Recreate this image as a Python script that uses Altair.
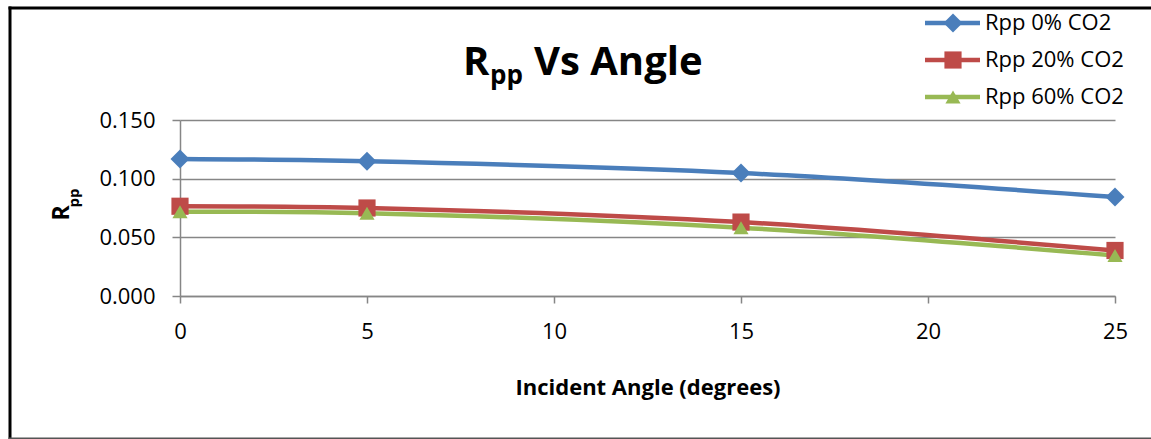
import altair as alt
import pandas as pd

# Reflection coefficient Rpp vs incident angle for three CO2 saturations
angles = [0, 5, 15, 25]
rpp_0 = [0.1168, 0.1148, 0.1048, 0.0844]
rpp_20 = [0.0765, 0.0750, 0.0630, 0.0388]
rpp_60 = [0.0718, 0.0705, 0.0582, 0.0345]

series_names = ["Rpp 0% CO2", "Rpp 20% CO2", "Rpp 60% CO2"]
series_colors = ["#4A7EBB", "#BE4B48", "#98B954"]
series_shapes = ["diamond", "square", "triangle-up"]
series_sizes = [360, 230, 300]

x_ticks = [0, 5, 10, 15, 20, 25]
y_ticks = [0.0, 0.05, 0.10, 0.15]

FONT = "Open Sans"
W, H = 935, 176

rows = []
for name, vals in zip(series_names, [rpp_0, rpp_20, rpp_60]):
    for a, v in zip(angles, vals):
        rows.append({"angle": a, "rpp": v, "series": name})
df = pd.DataFrame(rows)

color = alt.Color("series:N", scale=alt.Scale(domain=series_names, range=series_colors), legend=None)
shape = alt.Shape("series:N", scale=alt.Scale(domain=series_names, range=series_shapes), legend=None)
size = alt.Size("series:N", scale=alt.Scale(domain=series_names, range=series_sizes), legend=None)

x_enc = alt.X(
    "angle:Q",
    scale=alt.Scale(domain=[0, 25], nice=False, zero=False),
    axis=alt.Axis(
        values=x_ticks, title="Incident Angle (degrees)", grid=False,
        labelFont=FONT, labelFontSize=22, labelColor="#000", labelPadding=18,
        labelFlush=False, labelOverlap=False,
        tickSize=7, tickColor="#868686", tickWidth=1.5,
        domainColor="#868686", domainWidth=1.5,
        titleFont=FONT, titleFontSize=22, titleFontWeight="bold", titleColor="#000",
        titlePadding=35,
    ),
)
y_enc = alt.Y(
    "rpp:Q",
    scale=alt.Scale(domain=[0, 0.15], nice=False),
    axis=alt.Axis(
        values=y_ticks, format=".3f", title=None,
        labelFont=FONT, labelFontSize=22, labelColor="#000", labelPadding=17,
        labelFlush=False,
        tickSize=8, tickColor="#868686", tickWidth=1.5,
        domainColor="#868686", domainWidth=1.5,
        grid=True, gridColor="#868686", gridWidth=1.5,
    ),
)

lines = alt.Chart(df).mark_line(strokeWidth=4.5, interpolate="catmull-rom").encode(
    x=x_enc, y=y_enc, color=color, detail="series:N"
)
points = alt.Chart(df).mark_point(filled=True, opacity=1, strokeWidth=0).encode(
    x="angle:Q", y="rpp:Q", color=color, shape=shape, size=size
)

# Legend block in the top-right corner
legend_df = pd.DataFrame({
    "series": series_names,
    "ly": [-97, -60, -23],
    "lx1": [745] * 3,
    "lx2": [800] * 3,
    "lxm": [773] * 3,
    "tx": [805] * 3,
})
leg_lines = alt.Chart(legend_df).mark_rule(strokeWidth=4.5).encode(
    x=alt.X("lx1:Q", scale=None), x2="lx2:Q", y=alt.Y("ly:Q", scale=None), color=color
)
leg_pts = alt.Chart(legend_df).mark_point(filled=True, opacity=1, strokeWidth=0).encode(
    x=alt.X("lxm:Q", scale=None), y=alt.Y("ly:Q", scale=None), color=color, shape=shape, size=size
)
leg_text = alt.Chart(legend_df).mark_text(
    align="left", baseline="middle", font=FONT, fontSize=22, color="#000"
).encode(x=alt.X("tx:Q", scale=None), y=alt.Y("ly:Q", scale=None), text="series:N")

# Chart title with subscript
title_df = pd.DataFrame({
    "t": ["R", "pp", "Vs Angle"],
    "tx": [283, 310, 354],
    "ty": [-45, -36, -45],
    "fs": [40, 26, 40],
})
title_parts = []
for _, r in title_df.iterrows():
    title_parts.append(
        alt.Chart(pd.DataFrame([r])).mark_text(
            align="left", baseline="alphabetic", font=FONT, fontWeight="bold",
            fontSize=int(r["fs"]), color="#000"
        ).encode(x=alt.X("tx:Q", scale=None), y=alt.Y("ty:Q", scale=None), text="t:N")
    )

# Rotated y-axis title with subscript
ytitle_df = pd.DataFrame({"t": ["R", "pp"], "tx": [-118, -106], "ty": [93, 78], "fs": [23, 15]})
ytitle_parts = []
for _, r in ytitle_df.iterrows():
    ytitle_parts.append(
        alt.Chart(pd.DataFrame([r])).mark_text(
            align="center", baseline="middle", angle=270, font=FONT, fontWeight="bold",
            fontSize=int(r["fs"]), color="#000"
        ).encode(x=alt.X("tx:Q", scale=None), y=alt.Y("ty:Q", scale=None), text="t:N")
    )

# Outer frame: left and top edges black, bottom edge gray (thin filled bands)
frame_src = pd.DataFrame({"k": [0]})
frame_left = alt.Chart(frame_src).mark_rect(fill="#000", strokeWidth=0).encode(
    x=alt.value(-171.5), x2=alt.value(-168.5), y=alt.value(-113.5), y2=alt.value(H + 145)
)
frame_top = alt.Chart(frame_src).mark_rect(fill="#000", strokeWidth=0).encode(
    x=alt.value(-171.5), x2=alt.value(W + 36), y=alt.value(-113.5), y2=alt.value(-110.5)
)
frame_bottom = alt.Chart(frame_src).mark_rect(fill="#555", strokeWidth=0).encode(
    x=alt.value(-171.5), x2=alt.value(W + 36), y=alt.value(H + 141.5), y2=alt.value(H + 144.5)
)

chart = alt.layer(
    frame_left, frame_top, frame_bottom, lines, points, leg_lines, leg_pts, leg_text,
    *title_parts, *ytitle_parts
).properties(
    width=W, height=H,
    autosize=alt.AutoSizeParams(type="none"),
    padding={"left": 180, "top": 120, "right": 36, "bottom": 143},
).configure_view(stroke=None)

chart.save("out.html", embed_options={"renderer": "svg", "actions": False})
